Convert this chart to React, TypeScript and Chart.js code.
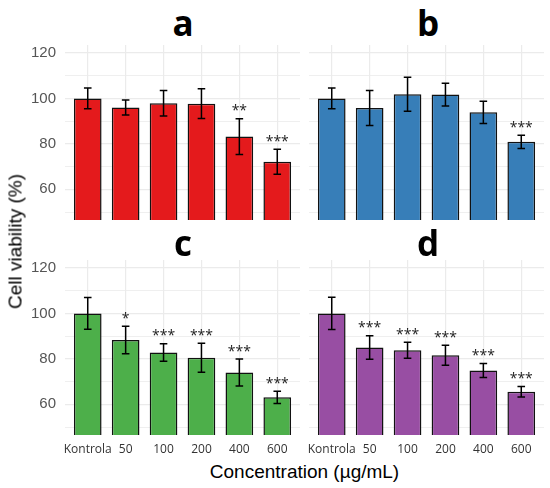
import { useEffect, useRef } from "react";
import { Chart, registerables, type Plugin } from "chart.js";

Chart.register(...registerables);

const categories = ["Kontrola", "50", "100", "200", "400", "600"];

const meansA = [100, 96, 97.9, 97.7, 83.2, 72.1];
const errA = [4.6, 3.3, 5.6, 6.5, 7.9, 5.5];
const starsA = ["", "", "", "", "**", "***"];

const meansB = [100, 95.8, 101.8, 101.7, 93.9, 80.9];
const errB = [4.6, 7.7, 7.5, 5.0, 4.9, 2.9];
const starsB = ["", "", "", "", "", "***"];

const meansC = [100, 88.3, 82.8, 80.5, 74.0, 63.1];
const errC = [7.0, 6.1, 3.8, 6.4, 5.9, 2.7];
const starsC = ["", "*", "***", "***", "***", "***"];

const meansD = [100, 85.0, 83.8, 81.6, 74.9, 65.5];
const errD = [7.1, 5.2, 3.5, 4.4, 3.1, 2.3];
const starsD = ["", "***", "***", "***", "***", "***"];

const yMajorTicks = [60, 80, 100, 120];
const yMinorTicks = [50, 70, 90, 110];
const yMin = 46.5;
const yMax = 123.5;

interface PanelProps {
  title: string;
  color: string;
  means: number[];
  errs: number[];
  stars: string[];
  showY: boolean;
  showX: boolean;
  left: number;
  top: number;
  width: number;
  height: number;
  padLeft: number;
  titleLeft: number;
  titleTop: number;
}

function Panel(props: PanelProps) {
  const canvasRef = useRef<HTMLCanvasElement>(null);

  useEffect(() => {
    if (!canvasRef.current) return;
    const { means, errs, stars, color, showX, showY, padLeft } = props;

    const errorBars: Plugin<"bar"> = {
      id: "errorBars",
      afterDatasetsDraw(chart) {
        const { ctx, scales } = chart;
        const xs = scales.x;
        const ys = scales.y;
        const cap = (xs.getPixelForValue(1) - xs.getPixelForValue(0)) * 0.1;
        ctx.save();
        ctx.strokeStyle = "#000";
        ctx.lineWidth = 1.5;
        means.forEach((m, i) => {
          const x = xs.getPixelForValue(i);
          const yt = ys.getPixelForValue(m + errs[i]);
          const yb = ys.getPixelForValue(m - errs[i]);
          ctx.beginPath();
          ctx.moveTo(x, yt);
          ctx.lineTo(x, yb);
          ctx.moveTo(x - cap, yt);
          ctx.lineTo(x + cap, yt);
          ctx.moveTo(x - cap, yb);
          ctx.lineTo(x + cap, yb);
          ctx.stroke();
          if (stars[i]) {
            ctx.fillStyle = "#222";
            ctx.font = "14px 'Open Sans'";
            ctx.textAlign = "center";
            ctx.textBaseline = "alphabetic";
            ctx.fillText(stars[i], x, yt - 3.5);
          }
        });
        ctx.restore();
      },
    };

    const chart = new Chart(canvasRef.current, {
      type: "bar",
      data: {
        datasets: [
          {
            data: means.map((v, i) => ({ x: i, y: v })),
            backgroundColor: color,
            borderColor: "#111",
            borderWidth: 1.5,
            barPercentage: 0.73,
            categoryPercentage: 1,
          },
        ],
      },
      options: {
        animation: false,
        responsive: true,
        maintainAspectRatio: false,
        layout: { padding: { left: padLeft, right: 0, top: 0, bottom: 0 } },
        plugins: {
          legend: { display: false },
          tooltip: { enabled: false },
        },
        scales: {
          x: {
            type: "linear",
            offset: false,
            min: -0.6,
            max: 5.6,
            afterBuildTicks: (s) => {
              s.ticks = categories.map((_, i) => ({ value: i }));
            },
            afterFit: (s) => {
              s.height = showX ? 24 : 0;
              s.paddingLeft = 0;
              s.paddingRight = 0;
              s.paddingTop = 0;
              s.paddingBottom = 0;
            },
            grid: { color: "#ebebeb", lineWidth: 1.2, drawTicks: false, offset: false },
            border: { display: false },
            ticks: {
              display: showX,
              autoSkip: false,
              maxRotation: 0,
              padding: 7,
              color: "#333",
              font: { family: "'Open Sans'", size: 12 },
              callback: (v) => categories[Number(v)] ?? "",
            },
          },
          y: {
            min: yMin,
            max: yMax,
            afterBuildTicks: (s) => {
              s.ticks = [...yMinorTicks, ...yMajorTicks]
                .sort((a, b) => a - b)
                .map((v) => ({ value: v }));
            },
            afterFit: (s) => {
              s.width = showY ? 45 : 0;
              s.paddingLeft = 0;
              s.paddingRight = 0;
              s.paddingTop = 0;
              s.paddingBottom = 0;
            },
            grid: {
              color: "#ebebeb",
              lineWidth: (ctx) => (yMajorTicks.includes(ctx.tick?.value) ? 1.3 : 0.8),
              drawTicks: false,
            },
            border: { display: false },
            ticks: {
              display: showY,
              padding: 9,
              color: "#555",
              font: { family: "'Liberation Sans'", size: 15 },
              callback: (v) => (yMajorTicks.includes(Number(v)) ? String(v) : ""),
            },
          },
        },
      },
      plugins: [errorBars],
    });

    return () => {
      chart.destroy();
    };
  }, []);

  return (
    <>
      <div
        style={{
          position: "absolute",
          left: props.titleLeft - 40,
          top: props.titleTop,
          width: 80,
          textAlign: "center",
          font: "700 35px 'Open Sans'",
          lineHeight: "35px",
          color: "#000",
        }}
      >
        {props.title}
      </div>
      <div
        style={{
          position: "absolute",
          left: props.left,
          top: props.top,
          width: props.width,
          height: props.height,
        }}
      >
        <canvas ref={canvasRef} />
      </div>
    </>
  );
}

export default function App() {
  return (
    <div
      style={{
        position: "absolute",
        left: 0,
        top: 0,
        width: 550,
        height: 488,
        background: "#fff",
        overflow: "hidden",
      }}
    >
      <Panel title="a" color="#E41A1C" means={meansA} errs={errA} stars={starsA}
        showY showX={false} left={20} top={45} width={280} height={175} padLeft={0}
        titleLeft={183} titleTop={5} />
      <Panel title="b" color="#377EB8" means={meansB} errs={errB} stars={starsB}
        showY={false} showX={false} left={299} top={45} width={245} height={175} padLeft={10}
        titleLeft={428} titleTop={5} />
      <Panel title="c" color="#4DAF4A" means={meansC} errs={errC} stars={starsC}
        showY showX left={20} top={260} width={280} height={199} padLeft={0}
        titleLeft={183} titleTop={225} />
      <Panel title="d" color="#984EA3" means={meansD} errs={errD} stars={starsD}
        showY={false} showX left={299} top={260} width={245} height={199} padLeft={10}
        titleLeft={428} titleTop={225} />
      <div
        style={{
          position: "absolute",
          left: 14 - 150,
          top: 241 - 9.5,
          width: 300,
          height: 19,
          lineHeight: "19px",
          textAlign: "center",
          font: "19px 'Liberation Sans'",
          color: "#000",
          transform: "rotate(-90deg)",
        }}
      >
        Cell viability (%)
      </div>
      <div
        style={{
          position: "absolute",
          left: 304.5 - 200,
          top: 461.4,
          width: 400,
          height: 19,
          lineHeight: "19px",
          textAlign: "center",
          font: "19px 'Liberation Sans'",
          color: "#000",
        }}
      >
        Concentration (µg/mL)
      </div>
    </div>
  );
}
